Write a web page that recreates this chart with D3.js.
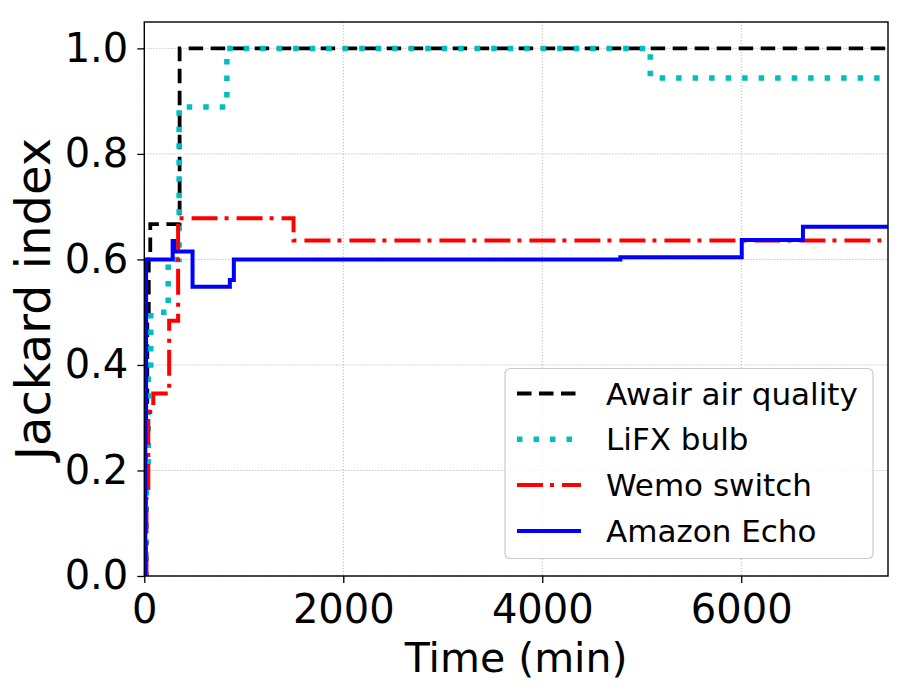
<!DOCTYPE html>
<html>
<head>
<meta charset="utf-8">
<script src="https://cdn.jsdelivr.net/npm/d3@7"></script>
<style>
  body { margin: 0; background: #fff; }
  svg { display: block; font-family: "DejaVu Sans", sans-serif; }
</style>
</head>
<body>
<svg id="chart" width="911" height="696"></svg>
<script>
// series (time in minutes, Jaccard value)
const seriesNames = ["Awair air quality", "LiFX bulb", "Wemo switch", "Amazon Echo"];

const awairTime  = [0, 15, 30, 45, 60, 355, 7475];
const awairValue = [0, 0.33, 0.5, 0.6, 0.667, 1.0, 1.0];

const lifxTime  = [0, 20, 40, 65, 240, 350, 830, 5085, 7475];
const lifxValue = [0, 0.2, 0.4, 0.5, 0.6, 0.889, 1.0, 0.944, 0.944];

const wemoTime  = [0, 22, 40, 90, 250, 340, 1500, 7475];
const wemoValue = [0, 0.15, 0.311, 0.346, 0.484, 0.678, 0.636, 0.636];

const echoTime  = [0, 10, 18, 285, 300, 485, 860, 900, 4785, 6005, 6620, 7475];
const echoValue = [0, 0.3, 0.6, 0.635, 0.615, 0.548, 0.561, 0.6, 0.604, 0.637, 0.662, 0.662];

const xTicks = [0, 2000, 4000, 6000];
const yTicks = [0, 0.2, 0.4, 0.6, 0.8, 1.0];

const W = 911, H = 696;
const margin = { left: 144.3, top: 22, right: W - 888, bottom: H - 576 };
const innerW = W - margin.left - margin.right;
const innerH = H - margin.top - margin.bottom;

const svg = d3.select("#chart");

const x = d3.scaleLinear().domain([0, 7475]).range([0, innerW]);
const y = d3.scaleLinear().domain([0, 1.05]).range([innerH, 0]);

const g = svg.append("g")
    .attr("transform", "translate(" + margin.left + "," + margin.top + ")");

svg.append("defs").append("clipPath")
    .attr("id", "plotclip")
    .append("rect")
    .attr("width", innerW)
    .attr("height", innerH);

// grid
g.append("g")
    .selectAll("line")
    .data(xTicks)
    .enter()
    .append("line")
    .attr("x1", d => x(d)).attr("x2", d => x(d))
    .attr("y1", 0).attr("y2", innerH)
    .attr("stroke", "#b0b0b0")
    .attr("stroke-width", 0.9)
    .attr("stroke-dasharray", "1.2,1.8");

g.append("g")
    .selectAll("line")
    .data(yTicks)
    .enter()
    .append("line")
    .attr("y1", d => y(d)).attr("y2", d => y(d))
    .attr("x1", 0).attr("x2", innerW)
    .attr("stroke", "#b0b0b0")
    .attr("stroke-width", 0.9)
    .attr("stroke-dasharray", "1.2,1.8");

// lines
const series = [
    { name: seriesNames[0], t: awairTime, v: awairValue, color: "#000000", width: 3.8, dash: "14.5,7.5" },
    { name: seriesNames[1], t: lifxTime, v: lifxValue, color: "#00bfbf", width: 5.5, dash: "5.5,11" },
    { name: seriesNames[2], t: wemoTime, v: wemoValue, color: "#ff0000", width: 4, dash: "26,7,4,8" },
    { name: seriesNames[3], t: echoTime, v: echoValue, color: "#0000ff", width: 4, dash: null }
];

const line = d3.line()
    .x(d => x(d[0]))
    .y(d => y(d[1]))
    .curve(d3.curveStepAfter);

const lines = g.append("g").attr("clip-path", "url(#plotclip)");

series.forEach(s => {
    lines.append("path")
        .datum(d3.zip(s.t, s.v))
        .attr("d", line)
        .attr("fill", "none")
        .attr("stroke", s.color)
        .attr("stroke-width", s.width)
        .attr("stroke-dasharray", s.dash);
});

// axes
const xAxis = d3.axisBottom(x)
    .tickValues(xTicks)
    .tickFormat(d3.format("d"))
    .tickSize(7)
    .tickPadding(11.5);

const yAxis = d3.axisLeft(y)
    .tickValues(yTicks)
    .tickFormat(d3.format(".1f"))
    .tickSize(7)
    .tickPadding(9);

const gx = g.append("g")
    .attr("transform", "translate(0," + innerH + ")")
    .call(xAxis);

const gy = g.append("g").call(yAxis);

[gx, gy].forEach(a => {
    a.select(".domain").remove();
    a.selectAll(".tick line").attr("stroke", "#000").attr("stroke-width", 1.3);
    a.selectAll(".tick text")
        .attr("fill", "#000")
        .style("font-size", "40px")
        .style("font-family", "DejaVu Sans");
});

// frame
g.append("rect")
    .attr("width", innerW)
    .attr("height", innerH)
    .attr("fill", "none")
    .attr("stroke", "#000")
    .attr("stroke-width", 1.4);

// axis labels
svg.append("text")
    .attr("x", margin.left + innerW / 2)
    .attr("y", 671.7)
    .attr("text-anchor", "middle")
    .style("font-size", "41px")
    .text("Time (min)");

svg.append("text")
    .attr("transform", "translate(50," + (margin.top + innerH / 2) + ") rotate(-90)")
    .attr("text-anchor", "middle")
    .style("font-size", "48px")
    .text("Jackard index");

// legend
const legend = svg.append("g");

legend.append("rect")
    .attr("x", 505)
    .attr("y", 368.5)
    .attr("width", 368)
    .attr("height", 190)
    .attr("rx", 5)
    .attr("fill", "#fff")
    .attr("fill-opacity", 0.8)
    .attr("stroke", "#cccccc")
    .attr("stroke-width", 1.2);

series.forEach((s, i) => {
    const ly = 393.5 + i * 45.8;
    legend.append("line")
        .attr("x1", 517).attr("x2", 581)
        .attr("y1", ly).attr("y2", ly)
        .attr("stroke", s.color)
        .attr("stroke-width", s.width)
        .attr("stroke-dasharray", s.dash);
    legend.append("text")
        .attr("x", 606)
        .attr("y", ly)
        .attr("dy", "0.36em")
        .style("font-size", "31px")
        .text(s.name);
});
</script>
</body>
</html>
